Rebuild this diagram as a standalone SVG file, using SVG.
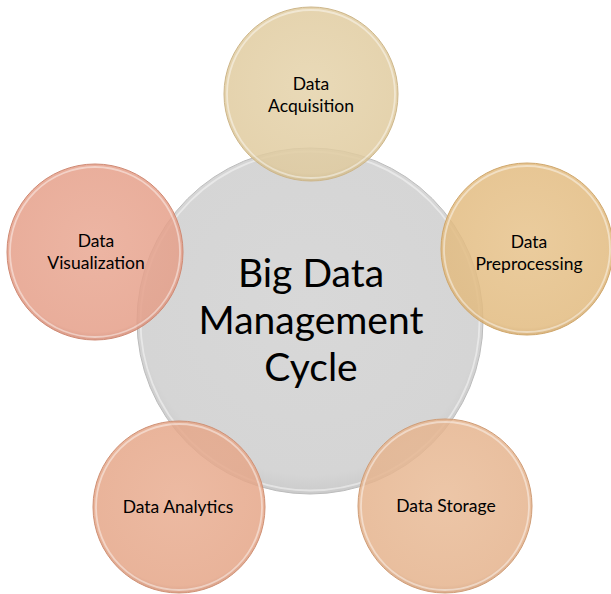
<svg xmlns="http://www.w3.org/2000/svg" width="611" height="594" viewBox="0 0 611 594">
<style>
.t{font-family:Lato,"Open Sans","Liberation Sans",sans-serif;fill:#000;text-anchor:middle}
.s{font-size:17.5px}
.b{font-size:39px}
.edge{fill:none;stroke-width:1}
.rim{fill:none;stroke:#fff;stroke-opacity:0.45;stroke-width:1.8}
</style>
<defs>
<radialGradient id="gC" cx="0.5" cy="0.45" r="0.55">
<stop offset="0" stop-color="#d8d8d8"/><stop offset="0.9" stop-color="#d5d5d5"/><stop offset="1" stop-color="#cbcbcb"/>
</radialGradient>
<radialGradient id="g1" cx="0.5" cy="0.45" r="0.55">
<stop offset="0" stop-color="#e5d3ab"/><stop offset="0.92" stop-color="#e0cb9f"/><stop offset="1" stop-color="#d3bd8d"/>
</radialGradient>
<radialGradient id="g2" cx="0.5" cy="0.45" r="0.55">
<stop offset="0" stop-color="#e7c38c"/><stop offset="0.92" stop-color="#e2bb80"/><stop offset="1" stop-color="#d4aa6d"/>
</radialGradient>
<radialGradient id="g3" cx="0.5" cy="0.45" r="0.55">
<stop offset="0" stop-color="#e9bc98"/><stop offset="0.92" stop-color="#e5b38d"/><stop offset="1" stop-color="#d5a17b"/>
</radialGradient>
<radialGradient id="g4" cx="0.5" cy="0.45" r="0.55">
<stop offset="0" stop-color="#e9ae92"/><stop offset="0.92" stop-color="#e5a688"/><stop offset="1" stop-color="#d59478"/>
</radialGradient>
<radialGradient id="g5" cx="0.5" cy="0.45" r="0.55">
<stop offset="0" stop-color="#e9a893"/><stop offset="0.92" stop-color="#e59f89"/><stop offset="1" stop-color="#d68c76"/>
</radialGradient>
</defs>
<g id="center">
<circle cx="310" cy="321" r="173" fill="url(#gC)"/>
<circle cx="310" cy="321" r="169.5" class="rim" stroke-opacity="0.6"/>
<circle cx="310" cy="321" r="173" class="edge" stroke="#bcbcbc"/>
<text class="t b" x="311" y="287">Big Data</text>
<text class="t b" x="311" y="334">Management</text>
<text class="t b" x="311" y="381">Cycle</text>
</g>
<g id="acquisition">
<circle cx="311" cy="94" r="87" fill="url(#g1)" fill-opacity="0.85"/>
<circle cx="311" cy="94" r="84" class="rim"/>
<circle cx="311" cy="94" r="87" class="edge" stroke="#cdb68a"/>
<text class="t s" x="311" y="90">Data</text>
<text class="t s" x="311" y="112">Acquisition</text>
</g>
<g id="preprocessing">
<circle cx="527" cy="249" r="86" fill="url(#g2)" fill-opacity="0.85"/>
<circle cx="527" cy="249" r="83" class="rim"/>
<circle cx="527" cy="249" r="86" class="edge" stroke="#cfa66a"/>
<text class="t s" x="529" y="248">Data</text>
<text class="t s" x="529" y="270">Preprocessing</text>
</g>
<g id="storage">
<circle cx="445" cy="506" r="87" fill="url(#g3)" fill-opacity="0.85"/>
<circle cx="445" cy="506" r="84" class="rim"/>
<circle cx="445" cy="506" r="87" class="edge" stroke="#cf9d77"/>
<text class="t s" x="446" y="512">Data Storage</text>
</g>
<g id="analytics">
<circle cx="179" cy="507" r="86" fill="url(#g4)" fill-opacity="0.85"/>
<circle cx="179" cy="507" r="83" class="rim"/>
<circle cx="179" cy="507" r="86" class="edge" stroke="#cf9074"/>
<text class="t s" x="178" y="513">Data Analytics</text>
</g>
<g id="visualization">
<circle cx="95" cy="252" r="88" fill="url(#g5)" fill-opacity="0.85"/>
<circle cx="95" cy="252" r="85" class="rim"/>
<circle cx="95" cy="252" r="88" class="edge" stroke="#cf8a74"/>
<text class="t s" x="96" y="247">Data</text>
<text class="t s" x="96" y="269">Visualization</text>
</g>
<g id="connectors"/>
</svg>
